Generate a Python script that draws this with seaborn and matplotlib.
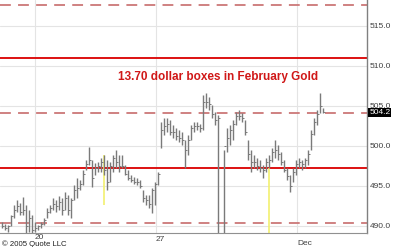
import numpy as np
import matplotlib
matplotlib.use("Agg")
import matplotlib.pyplot as plt
import matplotlib.transforms as mtransforms
import seaborn as sns

nan = np.nan
highs = [490.5,490.2,490.1,491.4,492.6,493.2,492.9,493.6,492.6,492.0,
         491.4,490.5,490.1,490.5,491.0,492.2,492.6,493.5,493.2,493.7,
         493.5,494.2,493.9,493.5,495.1,496.0,495.7,497.0,498.2,499.9,
         498.2,497.9,498.0,498.5,498.9,498.2,498.0,498.9,499.5,498.9,
         498.9,497.6,497.0,496.4,496.1,496.0,495.7,494.5,493.9,493.9,
         494.7,495.5,496.7,503.0,503.5,503.5,503.2,502.6,502.2,502.0,
         501.7,500.7,501.4,502.6,503.0,503.0,502.7,506.4,506.6,506.1,
         505.1,504.2,503.9,nan,499.5,502.2,502.6,503.2,504.2,504.5,
         504.1,503.2,500.7,499.5,498.9,498.5,498.2,497.6,498.5,498.9,
         499.7,500.7,500.1,499.2,498.2,497.2,496.4,497.2,498.2,498.5,
         498.2,498.5,499.5,502.0,503.5,504.5,506.6,504.7]
lows = [489.8,489.5,489.2,490.0,491.0,491.7,491.4,491.4,489.1,489.2,
        489.1,489.2,489.5,489.7,490.1,491.0,491.6,492.0,491.7,492.0,
        491.4,492.0,491.4,491.0,493.2,493.5,494.5,495.1,497.0,497.6,
        494.9,496.4,496.7,496.7,496.4,494.5,495.5,496.7,497.2,496.7,
        497.2,496.4,495.7,495.5,495.2,495.1,494.7,493.0,492.6,492.2,
        491.6,492.6,495.1,499.7,501.4,501.7,501.4,501.0,500.7,500.5,
        500.1,497.2,498.9,500.7,501.7,502.0,501.7,502.0,504.7,504.5,
        503.5,502.6,488.0,nan,488.0,499.2,500.1,500.7,502.6,503.2,
        503.0,501.4,498.2,496.7,497.2,497.0,496.7,496.0,496.7,497.2,
        498.0,498.5,498.2,497.6,496.7,495.7,494.2,495.5,496.4,497.2,
        497.0,497.2,497.6,499.5,501.4,502.6,504.1,504.1]
closes = [490.0,489.8,490.0,491.2,492.0,492.5,491.8,492.0,490.0,491.0,
          489.5,489.8,490.0,490.3,490.8,491.8,492.2,492.8,492.5,493.0,
          492.0,493.5,492.0,493.2,494.5,494.8,495.2,496.5,497.8,498.2,
          496.0,497.2,497.5,498.0,497.0,495.5,497.5,498.5,498.0,497.5,
          497.5,496.5,496.0,495.8,495.5,495.5,495.0,493.5,493.2,492.8,
          494.5,495.2,496.5,502.0,502.5,502.8,501.8,501.8,501.2,501.0,
          500.8,499.5,500.8,502.2,502.5,502.5,502.2,505.5,505.5,505.2,
          504.0,503.2,503.5,nan,500.0,501.0,502.0,502.8,503.8,503.8,
          503.5,501.8,499.0,498.0,498.0,497.5,497.2,497.0,498.0,498.2,
          499.2,499.5,499.0,498.0,497.0,496.2,495.0,496.8,497.8,498.0,
          497.8,498.2,499.0,501.5,503.0,504.0,505.0,504.2]

yellow_bar = [34, 89]
yellow_hi = [498.9, 497.25]
yellow_lo = [492.6, 488.0]

solid_levels = [497.25, 510.95]
dashed_levels = [490.4, 504.15, 517.65]

ytick_vals = [490.0, 495.0, 500.0, 505.0, 510.0, 515.0]
xtick_pos = [11, 51.33, 98.33]
xtick_labels = ["20", "27", "Dec"]
last_price = 504.2
title = "13.70 dollar boxes in February Gold"
copyright_text = "\u00a9 2005 Quote LLC"

sns.set_theme(style="white")
plt.rcParams["font.family"] = ["Liberation Sans", "DejaVu Sans"]

fig = plt.figure(figsize=(4, 2.47), dpi=100)
ax = fig.add_axes([0, 1 - 233 / 247, 367 / 400, 233 / 247])

x = np.arange(len(highs))
ax.set_xlim(-0.67, 121.67)
ax.set_ylim(489.125, 518.25)

# grid
for v in ytick_vals:
    ax.axhline(v, color="#e4e4e4", lw=0.8, zorder=0)
for v in xtick_pos:
    ax.axvline(v, color="#e4e4e4", lw=0.8, zorder=0)

# box levels
for v in solid_levels:
    ax.axhline(v, color="#dd1111", lw=1.4, zorder=1)
for v in dashed_levels:
    ax.axhline(v, color="#cc7777", lw=1.3, dashes=(6, 4), zorder=1)

# yellow bars
ax.vlines(yellow_bar, yellow_lo, yellow_hi, color="#f2f070", lw=1.2, zorder=2)

# price bars
ax.vlines(x, lows, highs, color="#7a7a7a", lw=1.0, zorder=3)
ax.plot(x, closes, linestyle="none", marker=1, ms=1.5, mew=0.7, color="#7a7a7a", zorder=3)

# title
ax.text(72, 508.66, title, color="#d01818", fontsize=8.5, fontweight="bold",
        ha="center", va="center", zorder=4)

# axes styling
for s in ["left", "top"]:
    ax.spines[s].set_visible(False)
ax.spines["right"].set_color("#808080")
ax.spines["right"].set_linewidth(1.0)
ax.spines["bottom"].set_color("#909090")
ax.spines["bottom"].set_linewidth(0.8)

ax.yaxis.tick_right()
ax.set_yticks(ytick_vals)
ax.set_yticklabels([f"{v:.1f}" for v in ytick_vals])
ax.tick_params(axis="y", length=0, pad=2, labelsize=6.0, labelcolor="#404040")
ax.set_xticks([])
ax.grid(False)

# x labels (staggered heights as in the reference)
xlab_trans = mtransforms.blended_transform_factory(ax.transData, fig.transFigure)
xlab_ypx = [237.5, 239.5, 243.5]
for pos, lab, ypx in zip(xtick_pos, xtick_labels, xlab_ypx):
    ax.text(pos, 1 - ypx / 247, lab, transform=xlab_trans, fontsize=6.0,
            color="#404040", ha="left", va="center", clip_on=False)

# last-price box
trans = mtransforms.blended_transform_factory(ax.transAxes, ax.transData)
ax.text(1.006, last_price, f"{last_price:.1f}", transform=trans, color="white",
        fontsize=6.0, ha="left", va="center", clip_on=False, zorder=6,
        bbox=dict(facecolor="black", edgecolor="none", pad=0.8))

fig.text(0.005, 1 - 244 / 247, copyright_text, fontsize=5.6, color="#202020",
         ha="left", va="center")

fig.savefig("out.png", dpi=100, facecolor="white")
